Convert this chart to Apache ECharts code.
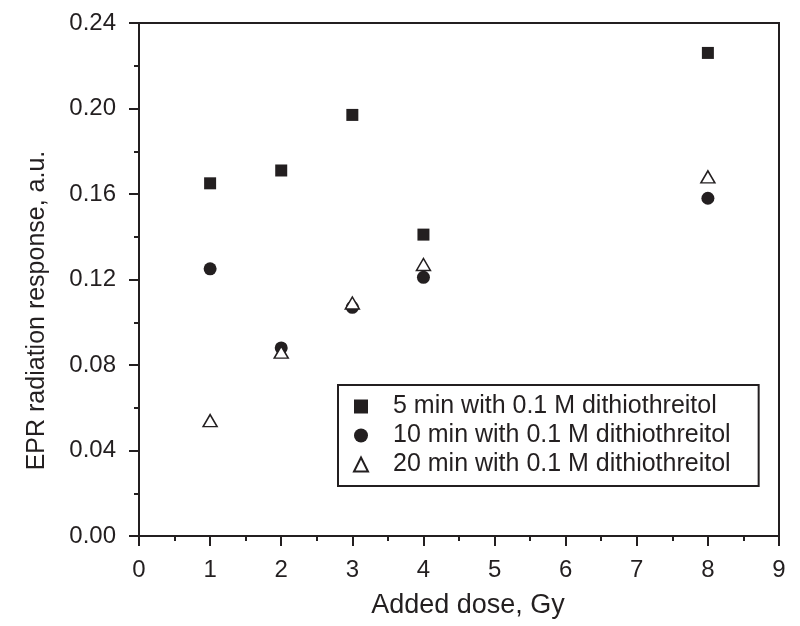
<!DOCTYPE html>
<html>
<head>
<meta charset="utf-8">
<script src="https://cdn.jsdelivr.net/npm/echarts@6/dist/echarts.min.js"></script>
<style>
  html, body { margin: 0; padding: 0; background: #fff; }
  #chart { width: 800px; height: 626px; }
</style>
</head>
<body>
<div id="chart"></div>
<script>
  // dose values (Gy)
  const doses = [1, 2, 3, 4, 8]
  const min5 = [0.165, 0.171, 0.197, 0.141, 0.226]
  const min10 = [0.125, 0.088, 0.107, 0.121, 0.158]
  const min20 = [0.054, 0.086, 0.109, 0.127, 0.168]
  const seriesNames = [
    '5 min with 0.1 M dithiothreitol',
    '10 min with 0.1 M dithiothreitol',
    '20 min with 0.1 M dithiothreitol'
  ]

  const pairs = (ys) => doses.map((d, i) => [d, ys[i]])
  const ink = '#231f20'
  const font = 'Liberation Sans, Arial, sans-serif'
  const tickStyle = { color: ink, width: 2 }

  var chart = echarts.init(document.getElementById('chart'))
  chart.setOption({
    animation: false,
    grid: {
      left: 139, right: 21, top: 23, bottom: 90,
      show: true, borderColor: ink, borderWidth: 2
    },
    legend: {
      orient: 'vertical',
      left: 338, top: 385,
      padding: [9, 28, 9, 15],
      itemGap: 4,
      itemWidth: 14, itemHeight: 14,
      borderColor: ink, borderWidth: 2,
      textStyle: { fontFamily: font, fontSize: 25, color: ink, padding: [0, 0, 0, 20] },
      data: seriesNames
    },
    xAxis: {
      type: 'value', min: 0, max: 9, interval: 1,
      name: 'Added dose, Gy', nameLocation: 'middle', nameGap: 56,
      nameTextStyle: { fontFamily: font, fontSize: 27, color: ink, padding: [0, 0, 0, 18] },
      axisLine: { lineStyle: { color: ink, width: 2 } },
      axisTick: { length: 10, lineStyle: tickStyle },
      minorTick: { show: true, splitNumber: 2, length: 5, lineStyle: tickStyle },
      axisLabel: { fontFamily: font, fontSize: 24, color: ink, margin: 22 },
      splitLine: { show: false }
    },
    yAxis: {
      type: 'value', min: 0, max: 0.24, interval: 0.04,
      name: 'EPR radiation response, a.u.', nameLocation: 'middle', nameGap: 89,
      nameTextStyle: { fontFamily: font, fontSize: 25, color: ink, padding: [0, 62, 0, 0] },
      axisLine: { lineStyle: { color: ink, width: 2 } },
      axisTick: { length: 10, lineStyle: tickStyle },
      minorTick: { show: true, splitNumber: 2, length: 5, lineStyle: tickStyle },
      axisLabel: { fontFamily: font, fontSize: 24, color: ink, margin: 23, formatter: (v) => v.toFixed(2) },
      splitLine: { show: false }
    },
    series: [
      {
        name: seriesNames[0], type: 'scatter', symbol: 'rect', symbolSize: 12,
        itemStyle: { color: ink, opacity: 1 },
        data: pairs(min5)
      },
      {
        name: seriesNames[1], type: 'scatter', symbol: 'circle', symbolSize: 13,
        itemStyle: { color: ink, opacity: 1 },
        data: pairs(min10)
      },
      {
        name: seriesNames[2], type: 'scatter', symbol: 'triangle', symbolSize: [14, 12],
        itemStyle: { color: '#fff', borderColor: ink, borderWidth: 1.5, opacity: 1 },
        data: pairs(min20)
      }
    ]
  })
</script>
</body>
</html>
